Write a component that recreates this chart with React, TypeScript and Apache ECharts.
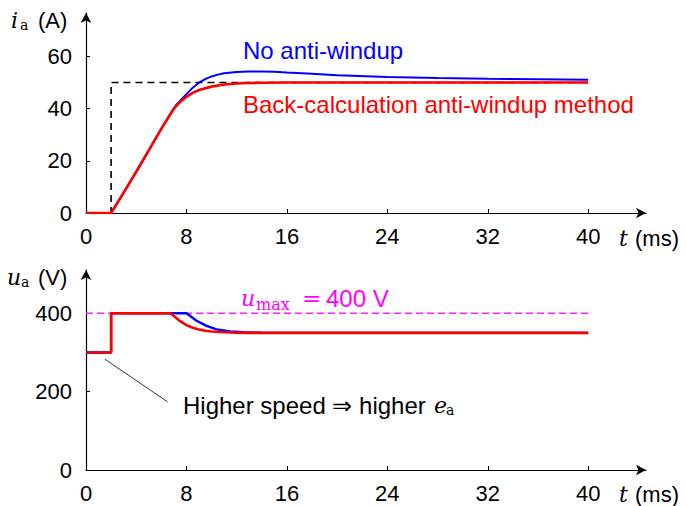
import React, { useEffect, useRef } from "react";
import * as echarts from "echarts";

// ---- data ----
const X_TICKS = [0, 8, 16, 24, 32, 40];
const I_TICKS = [0, 20, 40, 60];
const U_TICKS = [0, 200, 400];

const REF_T = [0, 2, 2, 40];
const REF_I = [0, 0, 50, 50];

const BLUE_I_T = [0, 2, 3, 4, 5, 6, 7, 7.2, 7.6, 8, 8.5, 9, 9.5, 10, 10.5, 11, 12, 13, 14, 15, 16, 18, 20, 24, 28, 32, 36, 40];
const BLUE_I = [0, 0, 7.8, 15.8, 24, 32.3, 40, 41.5, 43.5, 45.5, 48, 49.9, 51.3, 52.3, 53, 53.5, 54, 54.2, 54.2, 54.1, 53.8, 53.3, 52.8, 52.1, 51.7, 51.4, 51.2, 51];

const RED_I_T = [0, 2, 3, 4, 5, 6, 7, 7.5, 8, 8.5, 9, 10, 11, 12, 13, 14, 16, 40];
const RED_I = [0, 0, 7.8, 15.8, 24, 32.3, 40, 42.6, 44.5, 46, 47.1, 48.4, 49.2, 49.6, 49.8, 49.9, 50, 50];

const BLUE_U_T = [0, 2, 2, 8, 8.3, 8.8, 9.6, 10.4, 11.5, 12.5, 14, 16, 40];
const BLUE_U = [300, 300, 400, 400, 393, 381, 368, 359, 354, 351.5, 350.5, 350, 350];

const RED_U_T = [0, 2, 2, 6.7, 7, 7.5, 8, 8.5, 9, 9.5, 10, 11, 12, 13, 40];
const RED_U = [300, 300, 400, 400, 393, 380, 370, 363, 358.5, 355.5, 353.5, 351.5, 350.5, 350, 350];

const UMAX_T = [0, 40];
const UMAX = [400, 400];

const NOTE_T = [1.5, 6.5];
const NOTE_U = [283, 174];

const zip = (a: number[], b: number[]) => a.map((v, i) => [v, b[i]]);

const SANS = "Liberation Sans, Arial, Helvetica, sans-serif";
const SERIF = "DejaVu Serif, Liberation Serif, serif";

function txt(x: number, y: number, text: string, opts: any = {}) {
  return {
    type: "text",
    x,
    y,
    silent: true,
    style: {
      text,
      fill: opts.fill || "#000",
      fontSize: opts.fontSize || 22,
      fontFamily: opts.fontFamily || SANS,
      fontStyle: opts.fontStyle || "normal",
      align: "left",
      verticalAlign: "middle",
      textAlign: "left",
      textVerticalAlign: "middle",
    },
  };
}

function xAxisCfg(gridIndex: number) {
  return {
    type: "value",
    gridIndex,
    min: 0,
    max: 44.6,
    interval: 8,
    axisLine: {
      show: true,
      onZero: false,
      symbol: ["none", "arrow"],
      symbolSize: [8, 10],
      lineStyle: { color: "#000", width: 1.2 },
    },
    axisTick: { show: true, inside: true, length: 4, customValues: X_TICKS, lineStyle: { color: "#000", width: 1 } },
    axisLabel: { customValues: X_TICKS, fontSize: 22, color: "#000", fontFamily: SANS, margin: 12 },
    splitLine: { show: false },
  };
}

function yAxisCfg(gridIndex: number, max: number, ticks: number[], interval: number) {
  return {
    type: "value",
    gridIndex,
    min: 0,
    max,
    interval,
    axisLine: {
      show: true,
      onZero: false,
      symbol: ["none", "arrow"],
      symbolSize: [8, 10],
      lineStyle: { color: "#000", width: 1.2 },
    },
    axisTick: { show: true, inside: true, length: 4, customValues: ticks, lineStyle: { color: "#000", width: 1 } },
    axisLabel: { customValues: ticks, fontSize: 22, color: "#000", fontFamily: SANS, margin: 14 },
    splitLine: { show: false },
  };
}

function lineSeries(xi: number, data: number[][], color: string, width: number, type: any = "solid", z = 2) {
  return {
    type: "line",
    xAxisIndex: xi,
    yAxisIndex: xi,
    data,
    showSymbol: false,
    symbol: "none",
    silent: true,
    z,
    lineStyle: { color, width, type },
  };
}

const MATH = { fontFamily: SERIF, fontStyle: "italic", fontSize: 22 };
const SUB = { fontFamily: SERIF, fontSize: 14 };

export default function App() {
  const ref = useRef<HTMLDivElement>(null);
  useEffect(() => {
    document.body.style.margin = "0";
    if (!ref.current) return;
    const chart = echarts.init(ref.current, null, { renderer: "svg" });
    chart.setOption({
      animation: false,
      backgroundColor: "#fff",
      grid: [
        { left: 86, top: 13, width: 560, height: 200 },
        { left: 86, top: 270, width: 560, height: 200 },
      ],
      xAxis: [xAxisCfg(0), xAxisCfg(1)],
      yAxis: [yAxisCfg(0, 76.6, I_TICKS, 20), yAxisCfg(1, 510.6, U_TICKS, 200)],
      series: [
        lineSeries(0, zip(REF_T, REF_I), "#000", 1.6, [7, 5], 1),
        lineSeries(0, zip(BLUE_I_T, BLUE_I), "#0000ff", 2, "solid", 2),
        lineSeries(0, zip(RED_I_T, RED_I), "#ff0000", 2.6, "solid", 3),
        lineSeries(1, zip(UMAX_T, UMAX), "#ff22ff", 1.5, [7, 4], 1),
        lineSeries(1, zip(NOTE_T, NOTE_U), "#333", 1, "solid", 1),
        lineSeries(1, zip(BLUE_U_T, BLUE_U), "#0000ff", 2.4, "solid", 2),
        lineSeries(1, zip(RED_U_T, RED_U), "#ff0000", 2.6, "solid", 3),
      ],
      graphic: [
        // top y label
        txt(11, 20, "i", MATH),
        txt(20, 25, "a", SUB),
        txt(38, 20, "(A)"),
        // bottom y label
        txt(7, 277, "u", MATH),
        txt(21, 282, "a", SUB),
        txt(38, 277, "(V)"),
        // x labels
        txt(619, 238, "t", MATH),
        txt(635, 238, "(ms)"),
        txt(619, 494, "t", MATH),
        txt(635, 494, "(ms)"),
        // series labels
        txt(243, 50, "No anti-windup", { fill: "#0000ff", fontSize: 24 }),
        txt(243, 104, "Back-calculation anti-windup method", { fill: "#ff0000", fontSize: 24 }),
        // u_max label
        txt(241, 298, "u", { ...MATH, fill: "#ff00ff" }),
        txt(256, 304, "max", { ...SUB, fill: "#ff00ff", fontSize: 16 }),
        txt(302, 298, "=", { fontFamily: SERIF, fill: "#ff00ff", fontSize: 23 }),
        txt(326, 298, "400 V", { fill: "#ff00ff", fontSize: 24 }),
        // annotation
        txt(183, 405, "Higher speed \u21D2 higher", { fontSize: 24 }),
        txt(434, 405, "e", MATH),
        txt(446, 410, "a", SUB),
      ],
    });
    return () => chart.dispose();
  }, []);
  return <div ref={ref} style={{ width: 686, height: 506 }} />;
}
